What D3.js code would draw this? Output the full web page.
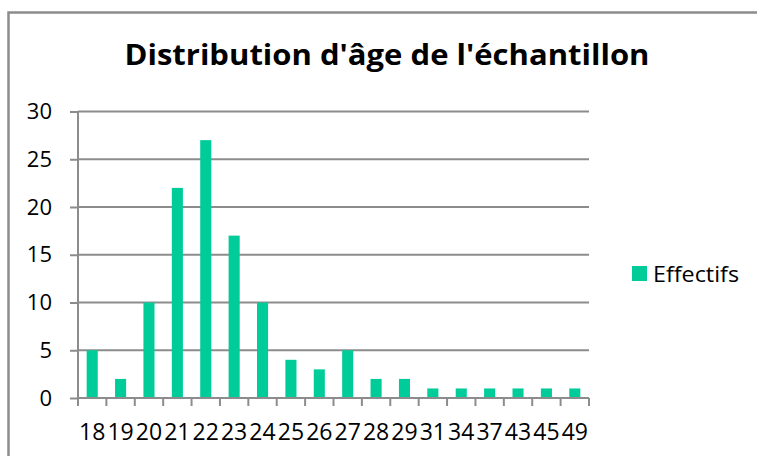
<!DOCTYPE html>
<html>
<head>
<meta charset="utf-8">
<script src="https://cdn.jsdelivr.net/npm/d3@7"></script>
<style>
  body { margin: 0; background: #fff; }
  svg { display: block; font-family: "Open Sans", sans-serif; }
</style>
</head>
<body>
<svg width="757" height="456"></svg>
<script>
// ages and counts
var ages = ['18','19','20','21','22','23','24','25','26','27','28','29','31','34','37','43','45','49'];
var effectifs = [5, 2, 10, 22, 27, 17, 10, 4, 3, 5, 2, 2, 1, 1, 1, 1, 1, 1];
var yTicks = [0, 5, 10, 15, 20, 25, 30];
var seriesName = 'Effectifs';
var chartTitle = "Distribution d'âge de l'échantillon";

var data = ages.map((a, i) => ({ age: a, value: effectifs[i] }));

var svg = d3.select('svg');
var grey = '#8c8c8c';
var barColor = '#00cc99';

// outer frame of the chart
svg.append('rect')
  .attr('x', 8.5).attr('y', 12.5)
  .attr('width', 800).attr('height', 500)
  .attr('fill', 'none').attr('stroke', grey).attr('stroke-width', 2.5);

var plotLeft = 78, plotRight = 589, plotTop = 111.5, plotBottom = 398;

var xs = d3.scaleBand().domain(ages).range([plotLeft, plotRight]).paddingInner(0.61).paddingOuter(0.305);
var xb = d3.scaleBand().domain(ages).range([plotLeft, plotRight]); // for tick marks / labels
var ys = d3.scaleLinear().domain([0, 30]).range([plotBottom, plotTop]);

// gridlines
svg.append('g')
  .selectAll('line').data(yTicks.filter(d => d > 0)).enter()
  .append('line')
  .attr('x1', plotLeft).attr('x2', plotRight)
  .attr('y1', d => ys(d)).attr('y2', d => ys(d))
  .attr('stroke', grey).attr('stroke-width', 2);

// y axis
var yAxis = svg.append('g')
  .attr('transform', `translate(${plotLeft},0)`)
  .call(d3.axisLeft(ys).tickValues(yTicks).tickSize(8).tickPadding(18));
yAxis.select('.domain').attr('stroke', grey).attr('stroke-width', 2).attr('d', `M0,${plotTop}V${plotBottom}`);
yAxis.selectAll('.tick line').attr('stroke', grey).attr('stroke-width', 2);
yAxis.selectAll('.tick text').attr('font-size', 22).attr('fill', '#000').attr('font-family', '"Open Sans", sans-serif');

// bars
svg.append('g')
  .selectAll('rect').data(data).enter()
  .append('rect')
  .attr('x', d => xs(d.age))
  .attr('y', d => ys(d.value))
  .attr('width', xs.bandwidth())
  .attr('height', d => plotBottom - ys(d.value))
  .attr('fill', barColor);

// x axis
svg.append('line')
  .attr('x1', plotLeft).attr('x2', plotRight)
  .attr('y1', plotBottom).attr('y2', plotBottom)
  .attr('stroke', grey).attr('stroke-width', 2);

var bounds = ages.map(a => xb(a)).concat([plotRight]);
svg.append('g')
  .selectAll('line').data(bounds).enter()
  .append('line')
  .attr('x1', d => d).attr('x2', d => d)
  .attr('y1', plotBottom).attr('y2', plotBottom + 8)
  .attr('stroke', grey).attr('stroke-width', 2);

svg.append('g')
  .selectAll('text').data(ages).enter()
  .append('text')
  .attr('x', d => xb(d) + xb.bandwidth() / 2)
  .attr('y', 440)
  .attr('text-anchor', 'middle')
  .attr('font-size', 23)
  .text(d => d);

// title
svg.append('text')
  .attr('x', 387).attr('y', 65)
  .attr('text-anchor', 'middle')
  .attr('font-size', 29)
  .attr('font-weight', 'bold')
  .attr('textLength', 525)
  .attr('lengthAdjust', 'spacingAndGlyphs')
  .text(chartTitle);

// legend
svg.append('rect')
  .attr('x', 632).attr('y', 266)
  .attr('width', 15).attr('height', 15)
  .attr('fill', barColor);
svg.append('text')
  .attr('x', 653).attr('y', 282)
  .attr('font-size', 22)
  .attr('textLength', 86)
  .attr('lengthAdjust', 'spacingAndGlyphs')
  .text(seriesName);
</script>
</body>
</html>
